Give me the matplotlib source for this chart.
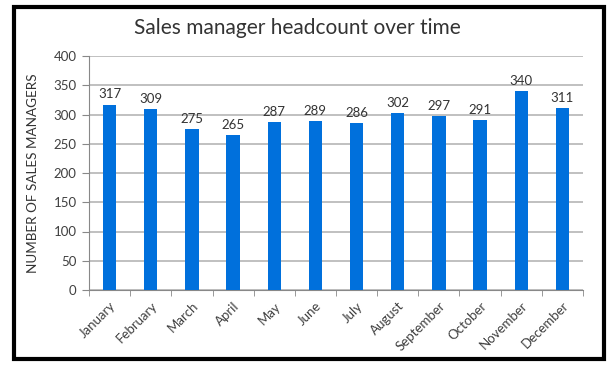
import matplotlib.pyplot as plt
from matplotlib.patches import Rectangle

months = ['January', 'February', 'March', 'April', 'May', 'June', 'July',
          'August', 'September', 'October', 'November', 'December']
headcount = [317, 309, 275, 265, 287, 289, 286, 302, 297, 291, 340, 311]
yticks = [0, 50, 100, 150, 200, 250, 300, 350, 400]

plt.rcParams['font.family'] = ['Lato', 'DejaVu Sans']

fig = plt.figure(figsize=(6.13, 3.69), dpi=100)
ax = fig.add_axes([89 / 613, 1 - 290 / 369, (583 - 89) / 613, (290 - 56) / 369])

# outer black frame of the chart box
fig.patches.append(Rectangle((14 / 613, 1 - 359 / 369), 590 / 613, 352 / 369,
                             transform=fig.transFigure, fill=False,
                             edgecolor='black', linewidth=3))

x = range(len(months))
ax.bar(x, headcount, width=0.32, color='#0070DC', zorder=3)
for xi, v in zip(x, headcount):
    ax.text(xi, v + 7, str(v), ha='center', va='bottom', fontsize=9.5, color='#333333')

ax.set_xlim(-0.5, len(months) - 0.5)
ax.set_ylim(0, 400)
ax.set_yticks(yticks)
ax.yaxis.grid(True, color='#B5B5B5', linewidth=1.2, zorder=0)
ax.set_xticks(x)
ax.set_xticklabels(months, rotation=45, ha='right', rotation_mode='anchor', fontsize=9.5, color='#404040')
ax.set_xticks([i - 0.5 for i in range(len(months) + 1)], minor=True)
ax.tick_params(axis='x', which='major', length=0, pad=7)
ax.tick_params(axis='x', which='minor', length=4, color='#888888')
ax.tick_params(axis='y', length=5, color='#888888', labelsize=9.5, labelcolor='#404040', pad=4)

for s in ['top', 'right']:
    ax.spines[s].set_visible(False)
ax.spines['left'].set_color('#888888')
ax.spines['bottom'].set_color('#888888')

ax.set_ylabel('NUMBER OF SALES MANAGERS', fontsize=9.7, color='#333333')
ax.yaxis.set_label_coords((39 - 89) / 494, 0.5)
fig.text(297 / 613, 1 - 28 / 369, 'Sales manager headcount over time', ha='center', va='center',
         fontsize=15, color='#333333')

fig.savefig('out.png', dpi=100)
